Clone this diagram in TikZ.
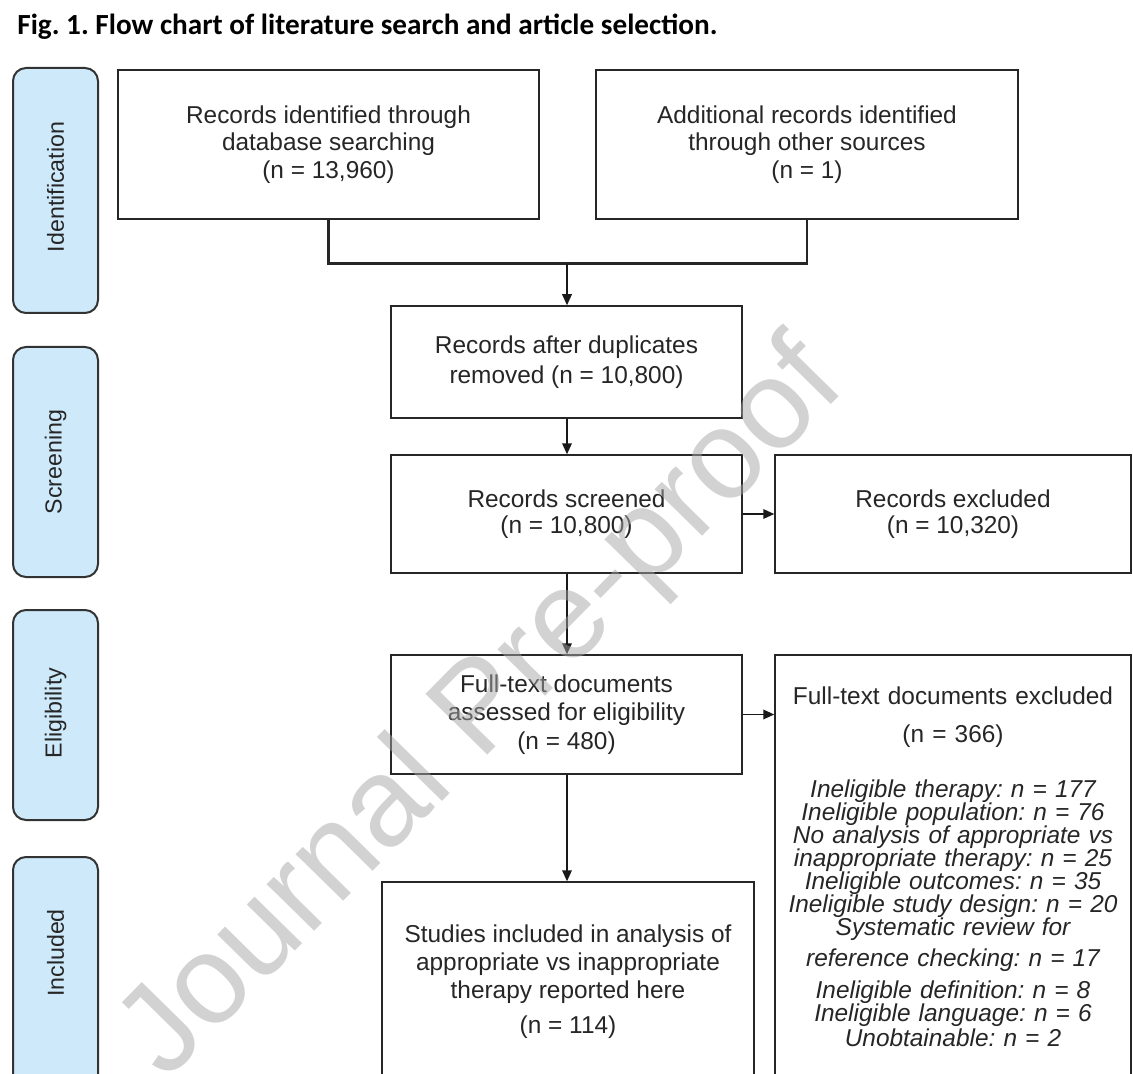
\documentclass[tikz,border=0pt]{standalone}
\usepackage{fontspec}
\setmainfont{Liberation Sans}
\newfontfamily\titlefont{Carlito}
\usetikzlibrary{arrows.meta}
\frenchspacing
\newcommand\bxfont{\fontsize{12.2}{14}\selectfont}
\newcommand\exfont{\fontsize{12.2}{11.5}\selectfont\lineskiplimit=-8pt}
\definecolor{sideblue}{HTML}{CDE9FA}
\begin{document}
\begin{tikzpicture}[x=0.5pt,y=-0.5pt,
  box/.style={draw=black!85, line width=0.75pt, fill=white, inner sep=0pt, align=center, font=\bxfont, text=black!85},
  sidebox/.style={draw=black!80, line width=1pt, fill=sideblue, rounded corners=6.5pt, inner sep=0pt, minimum width=42.5pt},
  sidetext/.style={rotate=90, font=\fontsize{11.6}{13}\selectfont, text=black!85, inner sep=0pt},
  arr/.style={-{Triangle[length=5.5pt,width=4.8pt]}, line width=0.75pt, draw=black!90},
  link/.style={line width=1.3pt, draw=black!85},
]
\useasboundingbox (0,0) rectangle (1133,1074);
\fill[white] (0,0) rectangle (1133,1074);
\clip (0,0) rectangle (1133,1074);

% title
\node[anchor=west, inner sep=0pt, font=\titlefont\bfseries\fontsize{14.6}{16}\selectfont] (title) at (17,27)
  {Fig. 1. Flow chart of literature search and article selection.};

% side labels
\node[sidebox, minimum height=122.5pt] (sid) at (55.5,190.5) {};
\node[sidetext] (tid) at (55.5,187) {Identification};
\node[sidebox, minimum height=115pt] (ssc) at (55.5,462) {};
\node[sidetext] (tsc) at (55.5,462) {Screening};
\node[sidebox, minimum height=105pt] (sel) at (55.5,715) {};
\node[sidetext] (tel) at (55.5,713) {Eligibility};
\node[sidebox, minimum height=125pt] (sin) at (55.5,982) {};
\node[sidetext] (tin) at (55.5,953) {Included};

% boxes
\node[box, minimum width=210.5pt, minimum height=74.5pt, font=\fontsize{12.2}{13.75}\selectfont] (b1) at (328.5,144.5)
  {Records identified through\\database searching\\(n = 13,960)};
\node[box, minimum width=211pt, minimum height=74.5pt, font=\fontsize{12.2}{13.75}\selectfont] (b2) at (807,144.5)
  {Additional records identified\\through other sources\\(n = 1)};
\node[box, minimum width=175.5pt, minimum height=56pt, font=\fontsize{12.2}{15}\selectfont] (b3) at (566.5,362)
  {Records after duplicates\\removed (n = 10,800)};
\node[box, minimum width=175.5pt, minimum height=59pt, font=\fontsize{12.2}{13}\selectfont] (b4) at (566.5,514)
  {Records screened\\(n = 10,800)};
\node[box, minimum width=178pt, minimum height=59pt, font=\fontsize{12.2}{13}\selectfont] (b5) at (953,514)
  {Records excluded\\(n = 10,320)};
\node[box, minimum width=175.5pt, minimum height=59.5pt, font=\fontsize{12.2}{14.25}\selectfont] (b6) at (566.5,714.5)
  {Full-text documents\\assessed for eligibility\\(n = 480)};
\node[box, minimum width=178pt, minimum height=212pt, text width=176pt, font=\exfont] (b7) at (953,867)
  {Full-text documents excluded\\[7.5pt]
   (n = 366)\\[16pt]
   \itshape Ineligible therapy: n = 177\\
   Ineligible population: n = 76\\
   No analysis of appropriate vs\\
   inappropriate therapy: n = 25\\
   Ineligible outcomes: n = 35\\
   Ineligible study design: n = 20\\
   Systematic review for\\[4pt]
   reference checking: n = 17\\[4.5pt]
   Ineligible definition: n = 8\\
   Ineligible language: n = 6\\[1pt]
   Unobtainable: n = 2};
\node[box, minimum width=186pt, minimum height=100pt, font=\fontsize{12.2}{14}\selectfont] (b8) at (568,982)
  {Studies included in analysis of\\appropriate vs inappropriate\\therapy reported here\\[3.5pt](n = 114)};

% connectors
\coordinate (m) at (567,263.6);
\draw[link] (b1.south) -- (b1.south |- m) -- (b2.south |- m) -- (b2.south);
\draw[arr] (m) -- (m |- b3.north);
\draw[arr] (b3.south -| m) -- (m |- b4.north);
\draw[arr] (b4.east) -- (b5.west);
\draw[arr] (b4.south -| m) -- (m |- b6.north);
\draw[arr] (b6.east) -- (b6.east -| b7.west);
\draw[arr] (b6.south -| m) -- (m |- b8.north);

% watermark
\node[rotate=45.5, font=\fontsize{63}{70}\selectfont, text=black!35, opacity=0.5, inner sep=0pt] (wm) at (484,712) {Journal Pre-proof};
\end{tikzpicture}
\end{document}
